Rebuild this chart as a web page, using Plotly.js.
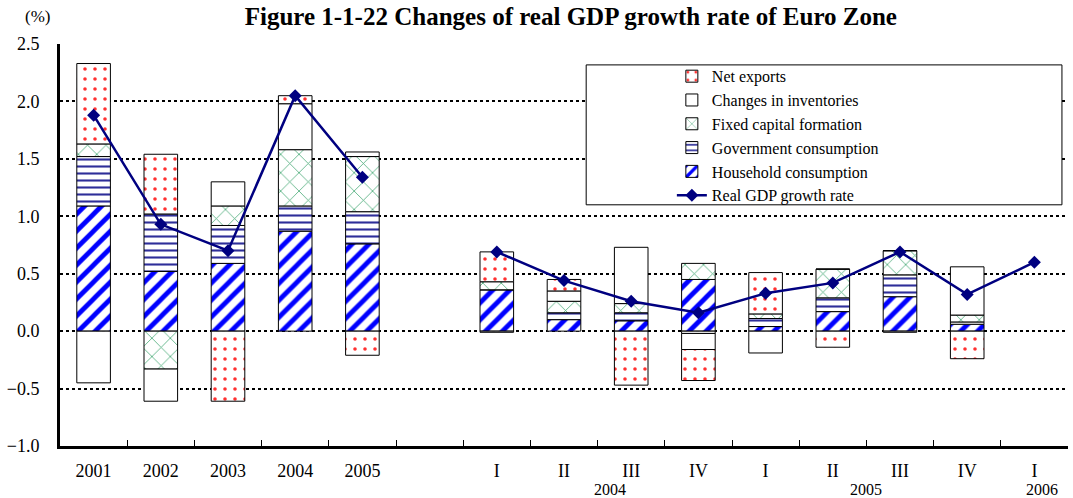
<!DOCTYPE html>
<html>
<head>
<meta charset="utf-8">
<script src="https://cdn.plot.ly/plotly-3.0.1.min.js"></script>
<style>html,body{margin:0;padding:0;background:#fff;}#chart{width:1073px;height:498px;}</style>
</head>
<body>
<div id="chart"></div>
<script>
// Periods (an empty slot separates annual and quarterly data)
const periods = ["2001","2002","2003","2004","2005","","2004 I","2004 II","2004 III","2004 IV","2005 I","2005 II","2005 III","2005 IV","2006 I"];
const tickLabels = ["2001","2002","2003","2004","2005","","I","II","III","IV","I","II","III","IV","I"];
const yearGroups = ["2004","2005","2006"];

// Contributions to real GDP growth (percentage points)
const household   = [1.09, 0.52, 0.59, 0.87, 0.76, null, 0.36, 0.10, 0.09, 0.45, 0.04, 0.17, 0.30, 0.06, null];
const government  = [0.43, 0.50, 0.33, 0.22, 0.28, null, 0.00, 0.06, 0.07, -0.02, 0.07, 0.12, 0.19, 0.02, null];
const fixedCap    = [0.11, -0.33, 0.17, 0.49, 0.48, null, 0.07, 0.10, 0.08, 0.14, 0.04, 0.25, 0.21, 0.06, null];
const inventories = [-0.45, -0.28, 0.21, 0.40, 0.04, null, -0.01, 0.09, 0.49, -0.14, -0.19, 0.00, 0.00, 0.42, null];
const netExports  = [0.70, 0.52, -0.61, 0.07, -0.21, null, 0.26, 0.10, -0.47, -0.27, 0.36, -0.14, -0.01, -0.24, null];
const gdpGrowth   = [1.88, 0.93, 0.70, 2.05, 1.34, null, 0.69, 0.44, 0.26, 0.16, 0.33, 0.42, 0.69, 0.32, 0.60];

const xs = periods.map((p, i) => i);
const FONT = "Liberation Serif, Times New Roman, serif";

function bar(name, y, rank, pattern) {
  return {
    type: "bar", name: name, x: xs, y: y, width: 0.5, legendrank: rank,
    marker: { color: "#ffffff", line: { color: "#000000", width: 1 }, pattern: pattern },
    hoverinfo: "y+name"
  };
}

const traces = [
  bar("Household consumption", household, 5, { shape: "/", fgcolor: "#0000ff", bgcolor: "#ffffff", size: 12, solidity: 0.4 }),
  bar("Government consumption", government, 4, { shape: "-", fgcolor: "#2e2e99", bgcolor: "#ffffff", size: 7, solidity: 0.3 }),
  bar("Fixed capital formation", fixedCap, 3, { shape: "x", fgcolor: "#4aaa78", bgcolor: "#ffffff", size: 13, solidity: 0.12 }),
  bar("Changes in inventories", inventories, 2, { shape: "", fgcolor: "#000000", bgcolor: "#ffffff" }),
  bar("Net exports", netExports, 1, { shape: ".", fgcolor: "#ff3030", bgcolor: "#ffffff", size: 10, solidity: 0.1 }),
  {
    type: "scatter", mode: "lines+markers", name: "Real GDP growth rate", x: xs, y: gdpGrowth,
    legendrank: 6, connectgaps: false,
    line: { color: "#000080", width: 2.5 },
    marker: { symbol: "diamond", size: 10, color: "#000080" }
  }
];

// indices for group labels
function centerOf(prefix) {
  const idx = periods.map((p, i) => p.startsWith(prefix + " ") ? i : -1).filter(i => i >= 0);
  return (idx[0] + idx[idx.length - 1]) / 2;
}

const annotations = [
  { text: "(%)", xref: "paper", yref: "paper", x: -0.022, y: 1.068, showarrow: false,
    font: { family: FONT, size: 17, color: "#000" }, xanchor: "center", yanchor: "middle" }
].concat(yearGroups.map(g => ({
  text: g, xref: "x", yref: "paper", x: centerOf(g), y: -0.107, showarrow: false,
  xshift: g === "2006" ? 8 : (g === "2004" ? 12 : 0),
  font: { family: FONT, size: 16, color: "#000" }, xanchor: "center", yanchor: "middle"
})));

const boundaries = xs.slice(0, -1).map(i => i + 0.5);

const layout = {
  width: 1073, height: 498,
  margin: { l: 60, r: 5, t: 44, b: 52 },
  paper_bgcolor: "#fff", plot_bgcolor: "#fff",
  font: { family: FONT, size: 17, color: "#000" },
  title: { text: "<b>Figure 1-1-22 Changes of real GDP growth rate of Euro Zone</b>",
    font: { family: FONT, size: 25, color: "#000" },
    x: 0.532, xanchor: "center", xref: "container", y: 0.985, yanchor: "top", yref: "container" },
  barmode: "relative",
  showlegend: true,
  legend: { x: 0.607, y: 0.962, xanchor: "left", yanchor: "top", traceorder: "normal",
    bgcolor: "rgba(255,255,255,0)", borderwidth: 0,
    font: { family: FONT, size: 16, color: "#000" } },
  shapes: [
    { type: "rect", xref: "paper", yref: "paper", x0: 0.522, x1: 0.994, y0: 0.6, y1: 0.948,
      line: { color: "#000", width: 1 }, fillcolor: "#ffffff", layer: "above" }
  ],
  xaxis: {
    range: [-0.5, 14.5], tickmode: "array", tickvals: xs, ticktext: tickLabels,
    ticks: "", showgrid: false, zeroline: false,
    showline: true, linecolor: "#000", linewidth: 3,
    ticklabelstandoff: 6,
    tickfont: { family: FONT, size: 18, color: "#000" },
    minor: { tickmode: "array", tickvals: boundaries, ticks: "inside", ticklen: 6, tickwidth: 1, tickcolor: "#000", showgrid: false }
  },
  yaxis: {
    range: [-1, 2.5], dtick: 0.5, tick0: 0, tickformat: ".1f",
    showgrid: true, gridcolor: "#000", gridwidth: 2, griddash: "dot",
    zeroline: false, showline: true, linecolor: "#000", linewidth: 3,
    ticks: "", ticklabelstandoff: 14,
    tickfont: { family: FONT, size: 18, color: "#000" }
  },
  annotations: annotations
};

Plotly.newPlot("chart", traces, layout, { displayModeBar: false, staticPlot: true });
</script>
</body>
</html>
